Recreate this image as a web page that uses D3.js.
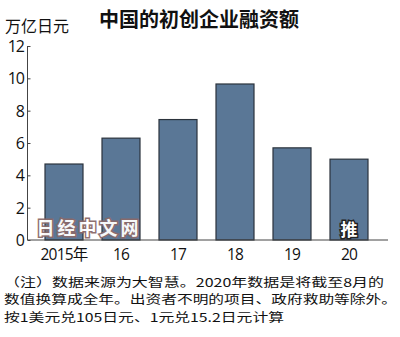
<!DOCTYPE html>
<html>
<head>
<meta charset="utf-8">
<script src="https://cdn.jsdelivr.net/npm/d3@7"></script>
<style>
  html, body { margin: 0; padding: 0; background: #fff; }
  svg { display: block; }
</style>
</head>
<body>
<svg id="chart" width="400" height="337"></svg>
<script>
// Startup funding in China, trillion yen
const years = ["2015年", "16", "17", "18", "19", "20"];
const funding = [4.7, 6.3, 7.45, 9.65, 5.7, 5.0];
const yTicks = [0, 2, 4, 6, 8, 10, 12];
const title = "中国的初创企业融资额";
const unitLabel = "万亿日元";
const estimateMark = "推";
const watermark = "日经中文网";
const notes = [
  "（注）数据来源为大智慧。2020年数据是将截至8月的",
  "数值换算成全年。出资者不明的项目、政府救助等除外。",
  "按1美元兑105日元、1元兑15.2日元计算"
];
const noteWidths = [380, 393, 280];

const svg = d3.select("#chart");
const font = "'Noto Sans CJK SC', 'Noto Sans', sans-serif";

const x = d3.scaleBand()
  .domain(years)
  .range([35.5, 377.5])
  .paddingInner(1 / 3)
  .paddingOuter(1 / 6);

const y = d3.scaleLinear()
  .domain([0, 12])
  .range([240, 46]);

// Title and unit
svg.append("text")
  .attr("x", 199).attr("y", 27)
  .attr("text-anchor", "middle")
  .attr("font-family", font)
  .attr("font-weight", "bold")
  .attr("font-size", 20)
  .attr("fill", "#111")
  .text(title);

svg.append("text")
  .attr("x", 5).attr("y", 32)
  .attr("font-family", font)
  .attr("font-size", 16)
  .attr("fill", "#111")
  .text(unitLabel);

// Bars
svg.append("g")
  .selectAll("rect")
  .data(funding)
  .join("rect")
  .attr("x", (d, i) => x(years[i]))
  .attr("y", d => y(d))
  .attr("width", x.bandwidth())
  .attr("height", d => y(0) - y(d))
  .attr("fill", "#5a7796")
  .attr("stroke", "#2b333c")
  .attr("stroke-width", 1.2);

// Y axis with short inward ticks
const yAxis = d3.axisRight(y)
  .tickValues(yTicks)
  .tickSize(3)
  .tickFormat("");
const gy = svg.append("g")
  .attr("transform", "translate(27.5,0)")
  .call(yAxis);
gy.select(".domain").attr("stroke", "#444").attr("d", `M0,${y(12)}V${y(0)}`);
gy.selectAll(".tick line").attr("stroke", "#444");

svg.append("g")
  .selectAll("text")
  .data(yTicks)
  .join("text")
  .attr("x", 24)
  .attr("y", d => y(d) + 6)
  .attr("text-anchor", "end")
  .attr("font-family", "'Open Sans', 'Noto Sans', sans-serif")
  .attr("font-size", 16)
  .attr("letter-spacing", -1)
  .attr("fill", "#111")
  .text(d => d);

// Baseline
svg.append("line")
  .attr("x1", 27.5).attr("x2", 388)
  .attr("y1", y(0)).attr("y2", y(0))
  .attr("stroke", "#444").attr("stroke-width", 1);

// Category labels
svg.append("g")
  .selectAll("text")
  .data(years)
  .join("text")
  .attr("x", d => x(d) + x.bandwidth() / 2)
  .attr("y", 260)
  .attr("text-anchor", "middle")
  .attr("font-family", "'Open Sans', 'Noto Sans CJK SC', sans-serif")
  .attr("font-size", 15.5)
  .attr("letter-spacing", -0.8)
  .attr("fill", "#111")
  .text(d => d);

// Estimate mark inside the last bar
svg.append("text")
  .attr("x", x(years[5]) + x.bandwidth() / 2)
  .attr("y", 236)
  .attr("text-anchor", "middle")
  .attr("font-family", font)
  .attr("font-weight", "bold")
  .attr("font-size", 17)
  .attr("fill", "#fff")
  .attr("stroke", "#222")
  .attr("stroke-width", 3)
  .attr("paint-order", "stroke")
  .text(estimateMark);

// Site watermark
svg.append("text")
  .attr("x", 89).attr("y", 235)
  .attr("text-anchor", "middle")
  .attr("font-family", font)
  .attr("font-weight", "bold")
  .attr("font-size", 18)
  .attr("letter-spacing", 3)
  .attr("fill", "#fff")
  .attr("stroke", "#8a6a6a")
  .attr("stroke-width", 3)
  .attr("paint-order", "stroke")
  .attr("opacity", 0.95)
  .text(watermark);

// Footnotes
svg.append("g")
  .selectAll("text")
  .data(notes)
  .join("text")
  .attr("x", 4)
  .attr("y", (d, i) => 286.5 + i * 17.5)
  .attr("font-family", font)
  .attr("font-size", 12)
  .attr("textLength", (d, i) => noteWidths[i])
  .attr("lengthAdjust", "spacingAndGlyphs")
  .attr("fill", "#111")
  .text(d => d);
</script>
</body>
</html>
